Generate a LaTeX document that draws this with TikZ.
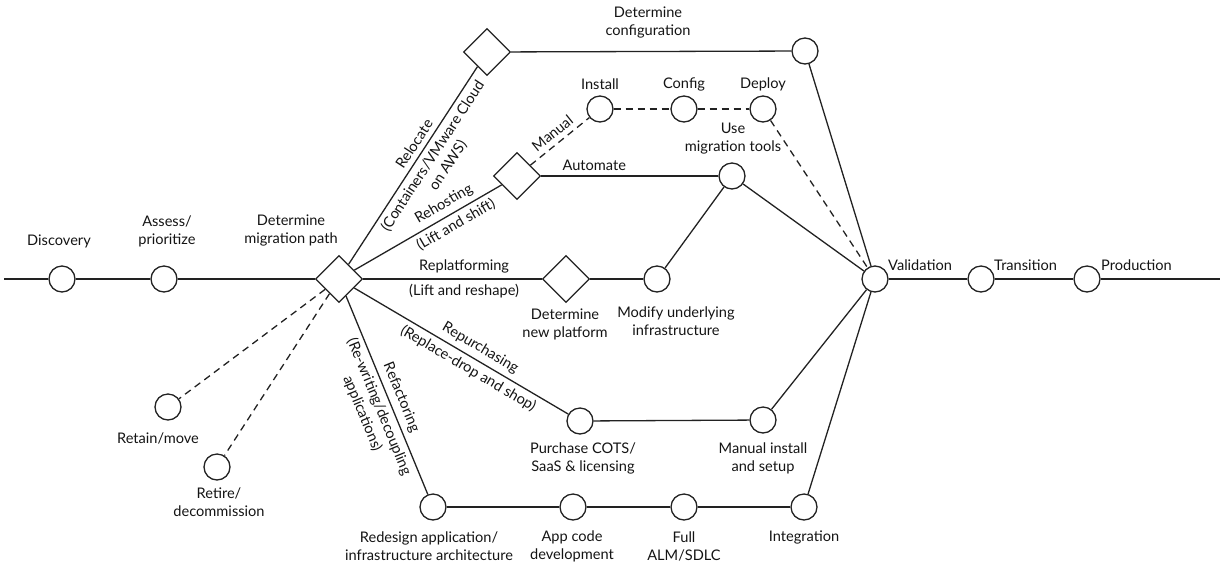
\documentclass[tikz,border=0pt]{standalone}
\usepackage{fontspec}
\setmainfont{Lato}
\usetikzlibrary{shapes.geometric}
\definecolor{linec}{RGB}{34,34,34}
\definecolor{textc}{RGB}{20,20,20}
\begin{document}
\begin{tikzpicture}[x=1pt,y=-1pt,
  every node/.style={font=\fontsize{14.6}{18}\selectfont, text=textc},
  stage/.style={circle, draw=linec, line width=1.3pt, minimum size=26pt, inner sep=0pt},
  choice/.style={diamond, draw=linec, line width=1.3pt, minimum width=47pt, minimum height=47pt, inner sep=0pt},
  link/.style={draw=linec, line width=1.3pt},
  optional/.style={link, dash pattern=on 7pt off 5pt},
  lbl/.style={align=center, inner sep=1pt},
  edgeup/.style={sloped, above=3pt, inner sep=2pt, align=center},
  edgedown/.style={sloped, below=2pt, inner sep=2pt, align=center},
]
\useasboundingbox (0,0) rectangle (1220,566);

% ---- stages and decision points ----
\node[stage]  (disc)     at (62,279)  {};
\node[stage]  (assess)   at (164,279) {};
\node[choice] (path)     at (339,279) {};
\node[choice] (reloc)    at (487,52)  {};
\node[stage]  (conf)     at (805,51)  {};
\node[choice] (rehost)   at (517,176) {};
\node[stage]  (install)  at (600,109) {};
\node[stage]  (config)   at (684,109) {};
\node[stage]  (deploy)   at (763,109) {};
\node[stage]  (tools)    at (732,176) {};
\node[choice] (newplat)  at (566,279) {};
\node[stage]  (modify)   at (657,279) {};
\node[stage]  (purchase) at (580,421) {};
\node[stage]  (manual)   at (763,420) {};
\node[stage]  (redesign) at (433,507) {};
\node[stage]  (appcode)  at (573,507) {};
\node[stage]  (alm)      at (684,507) {};
\node[stage]  (integ)    at (804,507) {};
\node[stage]  (valid)    at (875,279) {};
\node[stage]  (trans)    at (981,279) {};
\node[stage]  (prod)     at (1087,279) {};
\node[stage]  (retain)   at (168,407) {};
\node[stage]  (retire)   at (217,467) {};
\coordinate (start)  at (4,279);
\coordinate (finish) at (1220,279);

% ---- main line ----
\draw[link] (start) -- (disc);
\draw[link] (disc) -- (assess);
\draw[link] (assess) -- (path);
\draw[link] (valid) -- (trans);
\draw[link] (trans) -- (prod);
\draw[link] (prod) -- (finish);

% ---- relocate ----
\draw[link] (path) -- node[pos=0.58, edgeup] {Relocate}
  node[pos=0.58, edgedown] {(Containers/VMware Cloud\\on AWS)} (reloc);
\draw[link] (reloc) -- (conf);
\draw[link] (conf) -- (valid);

% ---- rehosting ----
\draw[link] (path) -- node[pos=0.65, edgeup] {Rehosting}
  node[pos=0.65, edgedown] {(Lift and shift)} (rehost);
\draw[optional] (rehost) -- node[pos=0.49, edgeup] {Manual} (install);
\draw[optional] (install) -- (config);
\draw[optional] (config) -- (deploy);
\draw[optional] (deploy) -- (valid);
\draw[link] (rehost) -- node[pos=0.3, above=3pt, inner sep=2pt] {Automate} (tools);
\draw[link] (tools) -- (valid);

% ---- replatforming ----
\draw[link] (path) -- node[pos=0.565, above=3pt, inner sep=2pt] {Replatforming}
  node[pos=0.565, below=3pt, inner sep=2pt] {(Lift and reshape)} (newplat);
\draw[link] (newplat) -- (modify);
\draw[link] (modify) -- (tools);

% ---- repurchasing ----
\draw[link] (path) -- node[pos=0.56, edgeup] {Repurchasing}
  node[pos=0.56, edgedown] {(Replace-drop and shop)} (purchase);
\draw[link] (purchase) -- (manual);
\draw[link] (manual) -- (valid);

% ---- refactoring ----
\draw[link] (path) -- node[pos=0.535, edgeup] {Refactoring}
  node[pos=0.535, edgedown] {(Re-writing/decoupling\\applications)} (redesign);
\draw[link] (redesign) -- (appcode);
\draw[link] (appcode) -- (alm);
\draw[link] (alm) -- (integ);
\draw[link] (integ) -- (valid);

% ---- retain / retire ----
\draw[optional] (path) -- (retain);
\draw[optional] (path) -- (retire);

% ---- stage labels ----
\node[lbl] (tdisc)     at (59,241)  {Discovery};
\node[lbl] (tassess)   at (167,231) {Assess/\\prioritize};
\node[lbl] (tpath)     at (291,230) {Determine\\migration path};
\node[lbl] (tconf)     at (648,23)  {Determine\\configuration};
\node[lbl] (tinstall)  at (600,84)  {Install};
\node[lbl] (tconfig)   at (684,84)  {Config};
\node[lbl] (tdeploy)   at (763,84)  {Deploy};
\node[lbl] (ttools)    at (733,139) {Use\\migration tools};
\node[lbl] (tnewplat)  at (565,324) {Determine\\new platform};
\node[lbl] (tmodify)   at (676,321) {Modify underlying\\infrastructure};
\node[lbl] (tpurchase) at (583,458) {Purchase COTS/\\SaaS \& licensing};
\node[lbl] (tmanual)   at (763,458) {Manual install\\and setup};
\node[lbl] (tredesign) at (429,546) {Redesign application/\\infrastructure architecture};
\node[lbl] (tappcode)  at (572,546) {App code\\development};
\node[lbl] (talm)      at (684,546) {Full\\ALM/SDLC};
\node[lbl] (tinteg)    at (804,537) {Integration};
\node[lbl] (tretain)   at (158,438) {Retain/move};
\node[lbl] (tretire)   at (219,502) {Retire/\\decommission};
\node[lbl, anchor=west] (tvalid) at (887,265)  {Validation};
\node[lbl, anchor=west] (ttrans) at (993,265)  {Transition};
\node[lbl, anchor=west] (tprod)  at (1100,265) {Production};
\end{tikzpicture}
\end{document}
